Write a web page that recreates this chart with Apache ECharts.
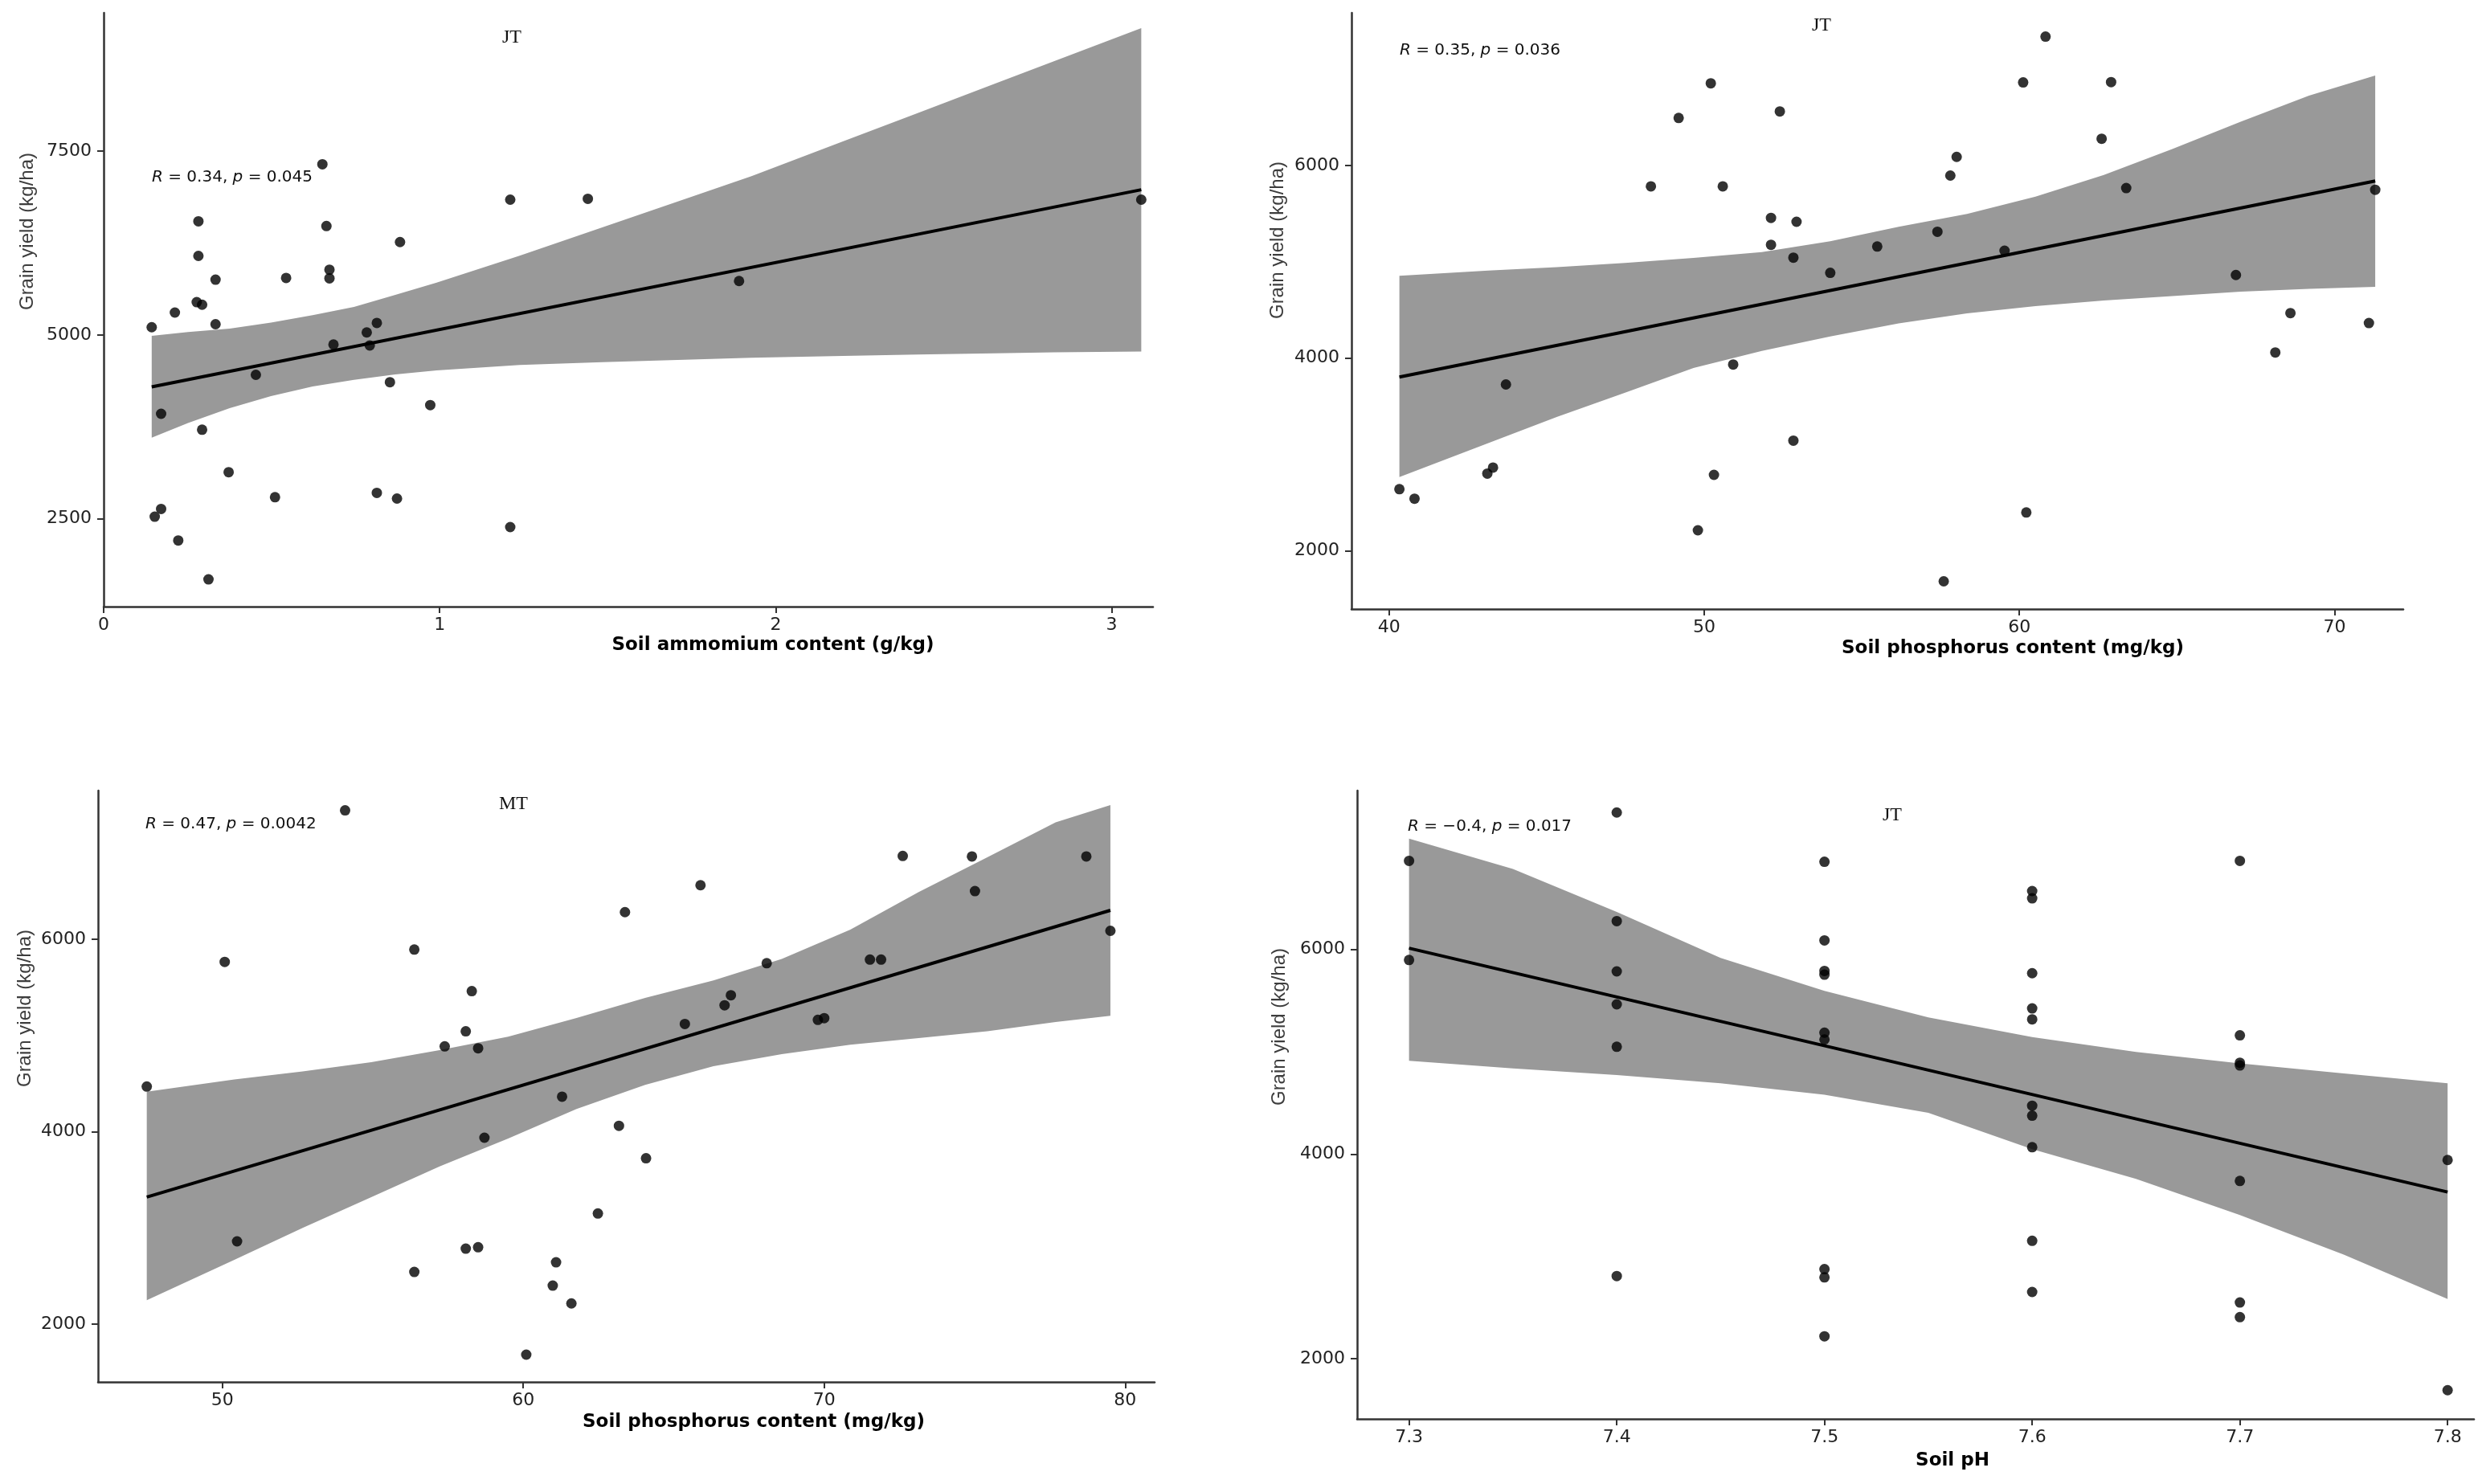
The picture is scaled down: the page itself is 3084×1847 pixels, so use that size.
<!DOCTYPE html>
<html>
<head>
<meta charset="utf-8">
<style>
  html, body { margin: 0; padding: 0; background: #fff; }
  #chart { width: 3084px; height: 1847px; }
</style>
<script src="https://cdn.jsdelivr.net/npm/echarts@6/dist/echarts.min.js"></script>
</head>
<body>
<div id="chart"></div>
<script>
// ---- panel 1: soil ammonium (JT) ----
var ammoniumX = [0.143, 0.152, 0.171, 0.171, 0.212, 0.222, 0.277, 0.293, 0.282, 0.282, 0.293, 0.312,
  0.333, 0.333, 0.372, 0.453, 0.510, 0.543, 0.651, 0.663, 0.672, 0.672, 0.684, 0.783,
  0.792, 0.813, 0.813, 0.852, 0.873, 0.882, 0.972, 1.210, 1.210, 1.441, 1.891, 3.088];
var ammoniumYield = [5106, 2529, 2635, 3929, 5306, 2206, 5447, 5412, 6547, 6076, 3712, 1677,
  5753, 5147, 3135, 4459, 2794, 5776, 7323, 6482, 5888, 5771, 4871, 5035,
  4859, 5165, 2853, 4359, 2776, 6265, 4047, 6841, 2388, 6853, 5735, 6841];
var ammoniumFit = [[0.143, 4295], [3.088, 6976]];
var ammoniumBandX = [0.143, 0.251, 0.375, 0.498, 0.622, 0.745, 0.868, 0.991, 1.238, 1.484, 1.728, 1.928, 2.200, 2.421, 2.650, 2.828, 3.088];
var ammoniumBandHi = [4990, 5040, 5088, 5168, 5271, 5381, 5546, 5712, 6079, 6465, 6847, 7161, 7633, 8016, 8414, 8723, 9174];
var ammoniumBandLo = [3605, 3803, 4005, 4170, 4299, 4390, 4464, 4519, 4592, 4630, 4665, 4690, 4715, 4735, 4752, 4765, 4776];

// ---- panel 2: soil phosphorus (JT) ----
var phosJtX = [40.33, 40.81, 43.12, 43.30, 43.71, 48.31, 49.19, 49.80, 50.21, 50.31, 50.59, 50.92,
  52.12, 52.12, 52.40, 52.83, 52.83, 52.93, 54.00, 55.49, 57.40, 57.60, 57.81, 58.01,
  59.53, 60.12, 60.22, 60.83, 62.61, 62.91, 63.39, 66.87, 68.12, 68.60, 71.09, 71.29];
var phosJtYield = [2638, 2539, 2800, 2863, 3726, 5784, 6494, 2211, 6854, 2787, 5784, 3933,
  5456, 5177, 6562, 5043, 3142, 5416, 4885, 5159, 5312, 1681, 5896, 6090,
  5115, 6863, 2396, 7339, 6278, 6867, 5766, 4863, 4058, 4467, 4364, 5748];
var phosJtFit = [[40.33, 3803], [71.29, 5840]];
var phosJtBandX = [40.33, 43.15, 45.32, 47.49, 49.66, 51.83, 54.00, 56.17, 58.34, 60.51, 62.68, 64.85, 67.02, 69.19, 71.29];
var phosJtBandHi = [4854, 4908, 4944, 4989, 5040, 5100, 5213, 5363, 5498, 5677, 5902, 6172, 6456, 6726, 6935];
var phosJtBandLo = [2763, 3117, 3387, 3641, 3896, 4075, 4225, 4360, 4465, 4540, 4599, 4644, 4689, 4719, 4740];

// ---- panel 3: soil phosphorus (MT) ----
var phosMtX = [47.49, 50.08, 50.49, 54.08, 56.38, 56.38, 57.39, 58.09, 58.09, 58.29, 58.50, 58.50,
  58.71, 60.10, 60.98, 61.09, 61.29, 61.60, 62.48, 63.18, 63.38, 64.08, 65.37, 65.89,
  66.69, 66.90, 68.09, 69.79, 70.00, 71.52, 71.89, 72.61, 74.91, 75.01, 78.71, 79.51];
var phosMtYield = [4470, 5765, 2861, 7340, 5893, 2543, 4887, 5044, 2785, 5461, 4868, 2800,
  3938, 1684, 2401, 2643, 4365, 2216, 3151, 4062, 6282, 3725, 5120, 6562,
  5314, 5419, 5751, 5163, 5181, 5789, 5789, 6866, 6861, 6501, 6861, 6088];
var phosMtFit = [[47.49, 3321], [79.51, 6301]];
var phosMtBandX = [47.49, 50.40, 52.67, 54.95, 57.22, 59.50, 61.77, 64.05, 66.32, 68.59, 70.87, 73.14, 75.42, 77.69, 79.51];
var phosMtBandHi = [4417, 4543, 4626, 4723, 4848, 4988, 5182, 5391, 5572, 5795, 6101, 6491, 6852, 7215, 7395];
var phosMtBandLo = [2249, 2670, 3000, 3320, 3640, 3930, 4236, 4487, 4681, 4807, 4904, 4974, 5044, 5141, 5205];

// ---- panel 4: soil pH (JT) ----
var phX = [7.3, 7.3,
  7.4, 7.4, 7.4, 7.4, 7.4, 7.4,
  7.5, 7.5, 7.5, 7.5, 7.5, 7.5, 7.5, 7.5, 7.5,
  7.6, 7.6, 7.6, 7.6, 7.6, 7.6, 7.6, 7.6, 7.6, 7.6,
  7.7, 7.7, 7.7, 7.7, 7.7, 7.7, 7.7,
  7.8, 7.8];
var phYield = [6866, 5897,
  7339, 6277, 5786, 5464, 5049, 2808,
  6857, 6089, 5790, 5754, 5187, 5120, 2875, 2795, 2219,
  6571, 6500, 5768, 5424, 5317, 4473, 4375, 4067, 3152, 2652,
  6866, 5161, 4893, 4866, 3737, 2549, 2406,
  3942, 1692];
var phFit = [[7.3, 6013], [7.8, 3629]];
var phBandX = [7.3, 7.35, 7.4, 7.45, 7.5, 7.55, 7.6, 7.65, 7.7, 7.75, 7.8];
var phBandHi = [7083, 6787, 6367, 5917, 5595, 5336, 5143, 4999, 4886, 4789, 4693];
var phBandLo = [4912, 4838, 4773, 4693, 4580, 4403, 4048, 3758, 3404, 3018, 2583];

// axis ticks
var ammoniumTicks = [0, 1, 2, 3];
var phosJtTicks = [40, 50, 60, 70];
var phosMtTicks = [50, 60, 70, 80];
var phTicks = [7.3, 7.4, 7.5, 7.6, 7.7, 7.8];
var yieldTicksA = [2500, 5000, 7500];
var yieldTicksB = [2000, 4000, 6000];

var panels = [
  { grid: { left: 129, top: 16, width: 1306, height: 739 },
    x: ammoniumX, y: ammoniumYield, fit: ammoniumFit,
    bx: ammoniumBandX, hi: ammoniumBandHi, lo: ammoniumBandLo,
    xMin: 0, xMax: 3.123, xTicks: ammoniumTicks, yMin: 1306, yMax: 9382, yTicks: yieldTicksA },
  { grid: { left: 1682, top: 16, width: 1309, height: 742 },
    x: phosJtX, y: phosJtYield, fit: phosJtFit,
    bx: phosJtBandX, hi: phosJtBandHi, lo: phosJtBandLo,
    xMin: 38.81, xMax: 72.18, xTicks: phosJtTicks, yMin: 1393, yMax: 7586, yTicks: yieldTicksB },
  { grid: { left: 122, top: 984, width: 1315, height: 736 },
    x: phosMtX, y: phosMtYield, fit: phosMtFit,
    bx: phosMtBandX, hi: phosMtBandHi, lo: phosMtBandLo,
    xMin: 45.87, xMax: 80.98, xTicks: phosMtTicks, yMin: 1400, yMax: 7545, yTicks: yieldTicksB },
  { grid: { left: 1689, top: 984, width: 1390, height: 782 },
    x: phX, y: phYield, fit: phFit,
    bx: phBandX, hi: phBandHi, lo: phBandLo,
    xMin: 7.275, xMax: 7.8127, xTicks: phTicks, yMin: 1411, yMax: 7553, yTicks: yieldTicksB }
];

var axisColor = '#333';
var labelFont = { fontFamily: 'DejaVu Sans', fontSize: 22, color: '#222' };

function makeAxis(i, min, max, ticks, isY) {
  return {
    type: 'value', gridIndex: i, min: min, max: max,
    axisLine: { show: true, onZero: false, lineStyle: { color: axisColor, width: 2.5 } },
    axisTick: { show: true, length: 8, customValues: ticks, lineStyle: { color: axisColor, width: 2 } },
    axisLabel: Object.assign({ customValues: ticks, margin: isY ? 15 : 12,
      formatter: function (v) { return String(v); } }, labelFont),
    splitLine: { show: false }
  };
}

var grids = [], xAxes = [], yAxes = [], series = [];
panels.forEach(function (p, i) {
  grids.push(Object.assign({ outerBoundsMode: 'none' }, p.grid));
  xAxes.push(makeAxis(i, p.xMin, p.xMax, p.xTicks, false));
  yAxes.push(makeAxis(i, p.yMin, p.yMax, p.yTicks, true));
  // confidence band, one polygon through the band points
  series.push({
    type: 'custom', xAxisIndex: i, yAxisIndex: i, silent: true, z: 1,
    data: p.bx.map(function (x, k) { return [x, p.lo[k], p.hi[k]]; }),
    encode: { x: 0, y: [1, 2] },
    renderItem: function (params, api) {
      if (params.dataIndex !== 0) return null;
      var top = p.bx.map(function (x, k) { return api.coord([x, p.hi[k]]); });
      var bot = p.bx.map(function (x, k) { return api.coord([x, p.lo[k]]); }).reverse();
      return { type: 'polygon', shape: { points: top.concat(bot) }, style: { fill: '#999999' } };
    }
  });
  series.push({
    type: 'line', xAxisIndex: i, yAxisIndex: i, z: 2, silent: true,
    data: p.fit, showSymbol: false,
    lineStyle: { color: '#000', width: 4 }
  });
  series.push({
    type: 'scatter', xAxisIndex: i, yAxisIndex: i, z: 3,
    data: p.x.map(function (x, k) { return [x, p.y[k]]; }),
    symbol: 'circle', symbolSize: 13,
    itemStyle: { color: '#000' }
  });
});

function txt(x, y, text, font, extra) {
  return Object.assign({
    type: 'text', x: x, y: y, z: 10,
    style: Object.assign({ text: text, fill: '#111', align: 'center', verticalAlign: 'middle',
      textAlign: 'center', textVerticalAlign: 'middle' }, font)
  }, extra || {});
}

var serif = { fontFamily: 'Liberation Serif', fontSize: 24 };
var xTitleFont = { fontFamily: 'DejaVu Sans', fontSize: 23, fontWeight: 'bold', fill: '#000' };
var yTitleFont = { fontFamily: 'Liberation Sans', fontSize: 24, fill: '#3d3d3d' };

function statText(x, y, r, p) {
  var base = { fontFamily: 'DejaVu Sans', fontSize: 20, fill: '#111' };
  var ital = Object.assign({ fontStyle: 'italic' }, base);
  return {
    type: 'text', x: x, y: y, z: 10,
    style: Object.assign({
      text: '{i|R}{n| = ' + r + ', }{i|p}{n| = ' + p + '}',
      align: 'left', verticalAlign: 'middle', textAlign: 'left', textVerticalAlign: 'middle',
      rich: { i: ital, n: base }
    }, base)
  };
}

var graphics = [
  txt(637, 47, 'JT', serif),
  txt(2267, 32, 'JT', serif),
  txt(639, 1001, 'MT', serif),
  txt(2355, 1015, 'JT', serif),
  statText(189, 221, '0.34', '0.045'),
  statText(1742, 63, '0.35', '0.036'),
  statText(181, 1026, '0.47', '0.0042'),
  statText(1752, 1029, '\u22120.4', '0.017'),
  txt(962, 803, 'Soil ammomium content (g/kg)', xTitleFont),
  txt(2505, 807, 'Soil phosphorus content (mg/kg)', xTitleFont),
  txt(938, 1770, 'Soil phosphorus content (mg/kg)', xTitleFont),
  txt(2430, 1818, 'Soil pH', xTitleFont),
  txt(34, 288, 'Grain yield (kg/ha)', yTitleFont, { rotation: Math.PI / 2 }),
  txt(1590, 299, 'Grain yield (kg/ha)', yTitleFont, { rotation: Math.PI / 2 }),
  txt(31, 1255, 'Grain yield (kg/ha)', yTitleFont, { rotation: Math.PI / 2 }),
  txt(1592, 1278, 'Grain yield (kg/ha)', yTitleFont, { rotation: Math.PI / 2 })
];

var myChart = echarts.init(document.getElementById('chart'));
myChart.setOption({
  backgroundColor: '#fff',
  animation: false,
  grid: grids,
  xAxis: xAxes,
  yAxis: yAxes,
  series: series,
  graphic: graphics
});
</script>
</body>
</html>
